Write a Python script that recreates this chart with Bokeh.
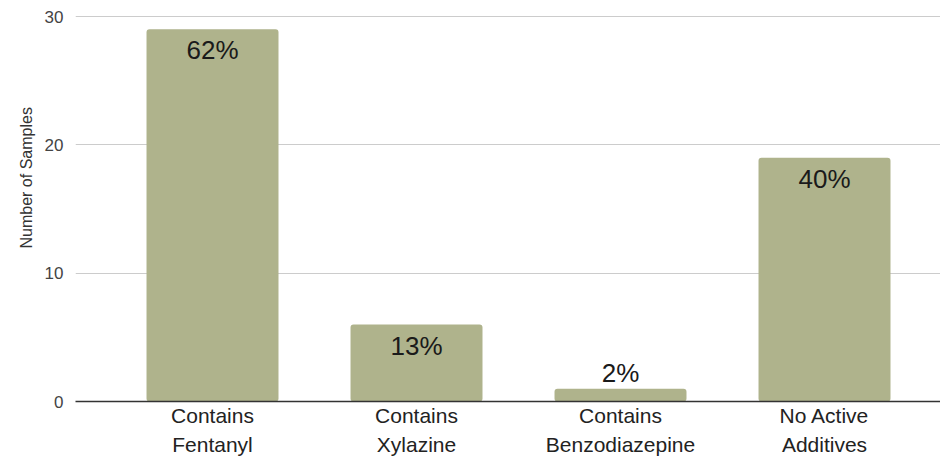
from bokeh.plotting import figure
from bokeh.models import FixedTicker, Title, ColumnDataSource
from bokeh.core.properties import value
from bokeh.embed import file_html
from bokeh.resources import INLINE

categories = ["Contains\nFentanyl", "Contains\nXylazine", "Contains\nBenzodiazepine", "No Active\nAdditives"]
samples = [29, 6, 1, 19]
pct_labels = ["62%", "13%", "2%", "40%"]
y_ticks = [0, 10, 20, 30]

FONT = "Liberation Sans"
BAR = "#afb38c"

xs = list(range(len(categories)))
inside = [v >= 3 for v in samples]
src = ColumnDataSource(dict(
    x=xs, top=samples, label=pct_labels,
    yoff=[21 if i else -16 for i in inside],
))

p = figure(width=940, height=461, output_backend="svg", toolbar_location=None,
           x_range=(-0.6716, 3.5686), y_range=(0, 31.247),
           min_border_left=75, min_border_right=0, min_border_top=0, min_border_bottom=60)
p.outline_line_color = None
p.background_fill_color = "white"
p.border_fill_color = "white"

p.vbar(x="x", top="top", bottom=0, width=0.647, source=src, fill_color=BAR, line_color=None,
       border_radius=3)
p.text(x="x", y="top", text="label", source=src, y_offset="yoff",
       text_align="center", text_baseline="middle", text_font=value(FONT),
       text_font_size="26px", text_color="#1a1a1a")

p.xgrid.grid_line_color = None
p.ygrid.grid_line_color = "#cccccc"
p.ygrid.grid_line_width = 1
p.yaxis.ticker = FixedTicker(ticks=y_ticks)
p.yaxis.axis_line_color = None
p.yaxis.major_tick_line_color = None
p.yaxis.minor_tick_line_color = None
p.yaxis.major_tick_out = 0
p.yaxis.major_label_standoff = 12
p.yaxis.major_label_text_font = FONT
p.yaxis.major_label_text_font_size = "17px"
p.yaxis.major_label_text_color = "#444444"

p.xaxis.ticker = FixedTicker(ticks=xs)
p.xaxis.major_label_overrides = {i: c for i, c in zip(xs, categories)}
p.xaxis.axis_line_color = "#333333"
p.xaxis.axis_line_width = 1.3
p.xaxis.major_tick_line_color = None
p.xaxis.minor_tick_line_color = None
p.xaxis.major_tick_out = 0
p.xaxis.major_tick_in = 0
p.xaxis.axis_label_standoff = 0
p.xaxis.major_label_standoff = 2
p.xaxis.major_label_text_font = FONT
p.xaxis.major_label_text_font_size = "21px"
p.xaxis.major_label_text_color = "#222222"
p.xaxis.major_label_text_line_height = 1.3

ytitle = Title(text="Number of Samples", align="left", offset=153, standoff=13,
               text_font=FONT, text_font_size="16px", text_font_style="normal",
               text_color="#333333")
p.add_layout(ytitle, "left")

open("out.html", "w").write(file_html(p, INLINE))
